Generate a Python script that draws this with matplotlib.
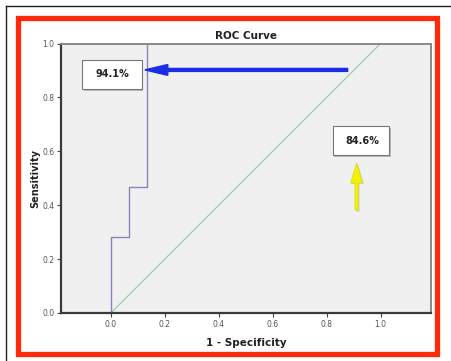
import matplotlib.pyplot as plt
from matplotlib.patches import Rectangle, FancyArrow
from matplotlib.lines import Line2D

# ROC step curve
fpr = [0.0, 0.0, 0.0667, 0.0667, 0.1333, 0.1333]
tpr = [0.0, 0.282, 0.282, 0.469, 0.469, 1.0]
ref_line = [0.0, 1.0]
ticks = [0.0, 0.2, 0.4, 0.6, 0.8, 1.0]
tick_labels = ["0.0", "0.2", "0.4", "0.6", "0.8", "1.0"]
callouts = ["94.1%", "84.6%"]

W, H = 452, 361
fig = plt.figure(figsize=(W / 100, H / 100), dpi=100)
fig.patch.set_facecolor("white")


def fx(px):
    return px / W


def fy(py):
    return 1 - py / H


# outer thin frame and red border
fig.add_artist(Line2D([fx(6.5), 1.0], [fy(5.5), fy(5.5)], color="#202020", lw=1.0))
fig.add_artist(Line2D([fx(6.5), fx(6.5)], [fy(5.5), 0.0], color="#202020", lw=1.0))
fig.add_artist(Rectangle((fx(18.5), fy(353.5)), fx(437.5) - fx(18.5), fy(17.5) - fy(353.5),
                         transform=fig.transFigure, fill=False, ec="#ff2a0a", lw=3.8))

ax = fig.add_axes([fx(61.5), fy(313), fx(431) - fx(61.5), fy(43.5) - fy(313)])
ax.set_facecolor("#f0f0f0")
ax.set_xlim(-0.183, 1.187)
ax.set_ylim(0, 1)

ax.plot(ref_line, ref_line, color="#93cba3", lw=0.8)
ax.plot(fpr, tpr, color="#8585c2", lw=1.0)

ax.set_xticks(ticks)
ax.set_xticklabels(tick_labels)
ax.set_yticks(ticks)
ax.set_yticklabels(tick_labels)
ax.tick_params(labelsize=5.5, labelcolor="#555555", length=3, width=0.8, color="#444444", pad=2)

for side in ["left", "bottom"]:
    ax.spines[side].set_color("#3a3a3a")
    ax.spines[side].set_linewidth(1.6)
for side in ["top", "right"]:
    ax.spines[side].set_color("#888888")
    ax.spines[side].set_linewidth(1.4)

ax.set_title("ROC Curve", fontsize=7.5, fontweight="bold", color="#222222", pad=3)
ax.set_xlabel("1 - Specificity", fontsize=7.5, fontweight="bold", color="#222222")
ax.set_ylabel("Sensitivity", fontsize=7, fontweight="bold", color="#222222")
ax.xaxis.set_label_coords(0.5, -0.093)
ax.yaxis.set_label_coords(-0.058, 0.5)


def callout(x0, y0, w, h, text):
    ax.add_patch(Rectangle((x0 + 0.006, y0 - 0.009), w, h, fc="#b8b8b8", ec="none", zorder=4))
    ax.add_patch(Rectangle((x0, y0), w, h, fc="white", ec="#777777", lw=0.8, zorder=5))
    ax.text(x0 + w * 0.22, y0 + h / 2, text, fontsize=7, fontweight="bold",
            color="#222222", va="center", ha="left", zorder=6)


callout(-0.107, 0.831, 0.222, 0.108, callouts[0])
callout(0.822, 0.586, 0.211, 0.108, callouts[1])

# blue arrow pointing to the curve
ax.add_patch(FancyArrow(0.878, 0.902, -0.752, 0, width=0.011, head_width=0.04,
                        head_length=0.085, length_includes_head=True,
                        fc="#1b2ee6", ec="#1b2ee6", zorder=6))
# yellow arrow pointing to the lower box
ax.add_patch(FancyArrow(0.916, 0.376, 0, 0.178, width=0.012, head_width=0.045,
                        head_length=0.075, length_includes_head=True,
                        fc="#9a9a70", ec="none", alpha=0.35, zorder=5))
ax.add_patch(FancyArrow(0.911, 0.382, 0, 0.175, width=0.012, head_width=0.045,
                        head_length=0.075, length_includes_head=True,
                        fc="#f2f200", ec="#d8d800", lw=0.4, zorder=6))

fig.savefig("out.png", dpi=100)
